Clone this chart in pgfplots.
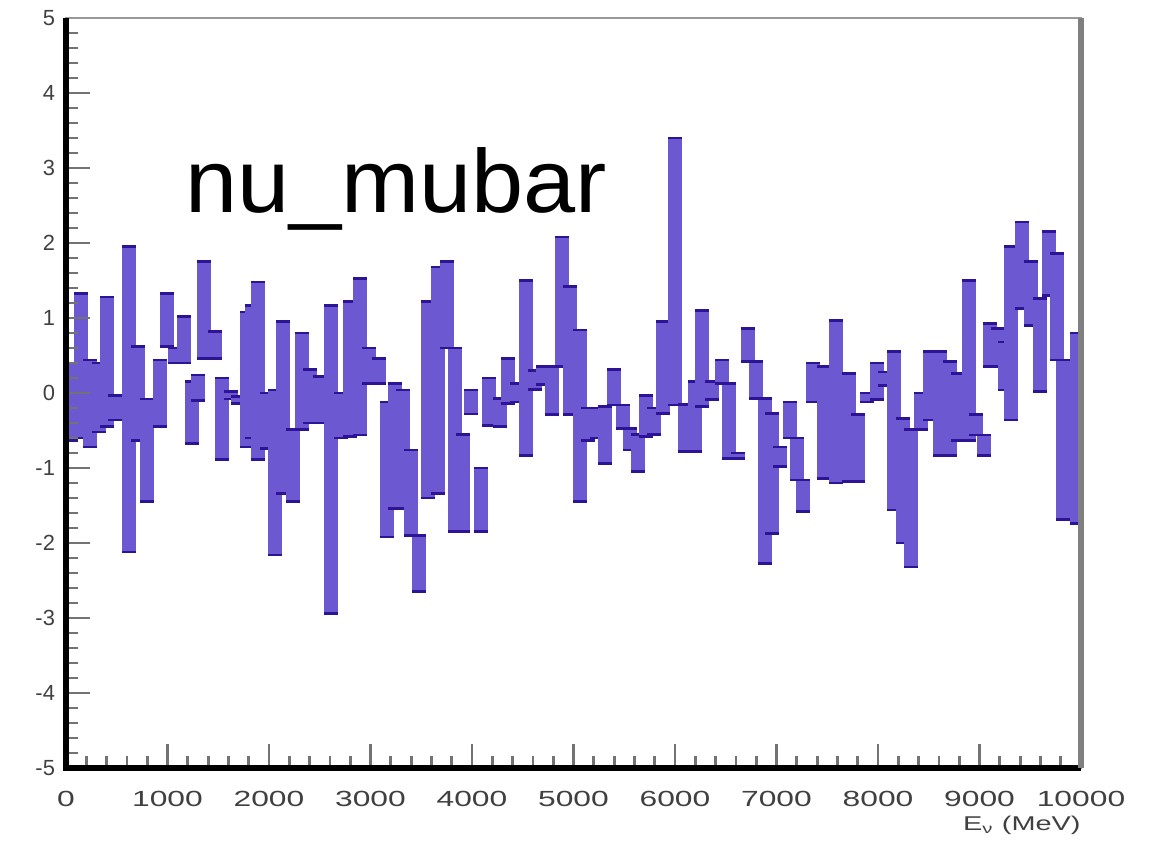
\documentclass[border=0pt]{standalone}
\usepackage{fontspec}
\setmainfont{Liberation Sans}
\usepackage{graphicx}
\usepackage{pgfplots}
\pgfplotsset{compat=1.18}
\usepackage{pgfplotstable}
\usetikzlibrary{calc}
\definecolor{boxc}{RGB}{108,88,208}
\definecolor{capc}{RGB}{45,20,150}
\pgfplotstableread{
x hi lo
49 0.40 -0.63
148 1.33 -0.60
236 0.44 -0.72
325 0.40 -0.52
404 1.28 -0.45
483 -0.03 -0.36
621 1.95 -2.12
709 0.62 -0.63
798 -0.08 -1.45
926 0.44 -0.45
995 1.33 0.62
1074 0.60 0.40
1163 1.02 0.40
1241 0.15 -0.67
1300 0.24 -0.10
1360 1.75 0.46
1468 0.82 0.46
1537 0.20 -0.89
1626 0.02 -0.08
1695 -0.05 -0.14
1783 1.08 -0.72
1832 1.17 -0.60
1892 1.48 -0.89
1975 0.00 -0.74
2059 0.04 -2.16
2138 0.95 -1.34
2236 -0.49 -1.45
2325 0.80 -0.49
2404 0.31 -0.40
2502 0.22 -0.40
2611 1.17 -2.94
2709 0.00 -0.60
2798 1.22 -0.58
2897 1.53 -0.56
2985 0.60 0.13
3084 0.46 0.13
3163 -0.12 -1.92
3241 0.13 -1.54
3320 0.04 -1.54
3399 -0.76 -1.90
3478 -1.90 -2.65
3566 1.22 -1.40
3665 1.68 -1.34
3754 1.75 0.60
3832 0.60 -1.85
3911 -0.55 -1.85
3990 0.04 -0.28
4089 -1.00 -1.85
4167 0.20 -0.43
4276 -0.07 -0.45
4355 0.46 -0.14
4443 0.13 -0.12
4532 1.50 -0.83
4621 0.30 0.05
4699 0.35 0.11
4788 0.35 -0.29
4887 2.08 0.35
4965 1.42 -0.29
5064 0.84 -1.45
5143 -0.20 -0.63
5231 -0.20 -0.60
5310 -0.18 -0.94
5399 0.31 -0.16
5488 -0.16 -0.47
5557 -0.47 -0.76
5635 -0.55 -1.05
5714 -0.03 -0.58
5793 -0.20 -0.55
5882 0.95 -0.27
6000 3.40 -0.16
6098 -0.15 -0.78
6197 0.15 -0.78
6266 1.10 -0.18
6364 0.15 -0.09
6463 0.44 0.13
6532 0.13 -0.87
6621 -0.80 -0.87
6719 0.86 0.42
6798 0.42 -0.07
6887 -0.07 -2.27
6956 -0.27 -1.87
7034 -0.72 -0.98
7133 -0.12 -0.60
7202 -0.60 -1.16
7261 -1.16 -1.58
7360 0.40 -0.12
7468 0.35 -1.14
7586 0.97 -1.20
7714 0.26 -1.18
7803 -0.29 -1.18
7891 0.00 -0.12
7990 0.40 -0.09
8069 0.28 0.10
8157 0.55 -1.56
8246 -0.34 -2.00
8325 -0.49 -2.32
8424 0.00 -0.49
8512 0.55 -0.36
8611 0.55 -0.83
8709 0.42 -0.83
8788 0.26 -0.63
8897 1.50 -0.63
8966 -0.29 -0.56
9044 -0.56 -0.83
9103 0.93 0.35
9182 0.86 0.35
9251 0.68 0.04
9310 1.95 -0.36
9419 2.28 1.13
9507 1.75 0.90
9596 1.26 0.02
9685 2.15 1.30
9764 1.86 0.44
9823 0.44 -1.69
9961 0.80 -1.74
}\boxes
\begin{document}
\begin{tikzpicture}
\begin{axis}[
  name=ax,
  width=507.5bp, height=375bp, scale only axis,
  xmin=0, xmax=10000, ymin=-5, ymax=5,
  axis on top,
  axis line style={black!40, line width=0.8bp},
  xtick={0,1000,...,10000}, ytick={-5,-4,...,5},
  minor x tick num=4, minor y tick num=4,
  xtick pos=bottom, ytick pos=left,
  tick align=inside,
  major tick length=12bp, minor tick length=6bp,
  tick style={line width=1.4bp, black!55},
  scaled x ticks=false,
  /pgf/number format/assume math mode=true,
  /pgf/number format/1000 sep={},
  xticklabel={\scalebox{1.45}[1]{\pgfmathprintnumber{\tick}}},
  x tick label style={font=\fontsize{11}{12}\selectfont, text=black!75, yshift=-8bp},
  y tick label style={font=\fontsize{11}{12}\selectfont, text=black!75, xshift=-2bp},
  xlabel={\scalebox{1.45}[1]{E\textsubscript{ν} (MeV)}},
  xlabel style={at={(rel axis cs:1,0)}, anchor=north east, inner sep=0pt, yshift=-24bp,
    font=\fontsize{10}{12}\selectfont, text=black!75},
]
\addplot[draw=none, mark=none, forget plot,
  error bars/.cd, y dir=both, y explicit,
  error mark=|,
  error bar style={draw=boxc, line width=7bp},
  error mark options={draw=capc, line width=1.4bp, mark size=3.3bp}]
  table[x=x, y expr={(\thisrow{hi}+\thisrow{lo})/2}, y error expr={(\thisrow{hi}-\thisrow{lo})/2}] {\boxes};
\end{axis}
\draw[black, line width=3bp] (ax.north west) -- (ax.south west) -- (ax.south east);
\draw[black!50, line width=3bp] (ax.south east) -- (ax.north east);
\node[anchor=base west, inner sep=0pt, font=\fontsize{45}{50}\selectfont]
  at ($(ax.south west)!0.117!(ax.south east) + (0,277.5bp)$) {\scalebox{1.045}[1]{nu\_mubar}};
\useasboundingbox ([xshift=-33bp,yshift=-38bp]ax.south west) rectangle ([xshift=43.5bp,yshift=9bp]ax.north east);
\end{tikzpicture}
\end{document}
